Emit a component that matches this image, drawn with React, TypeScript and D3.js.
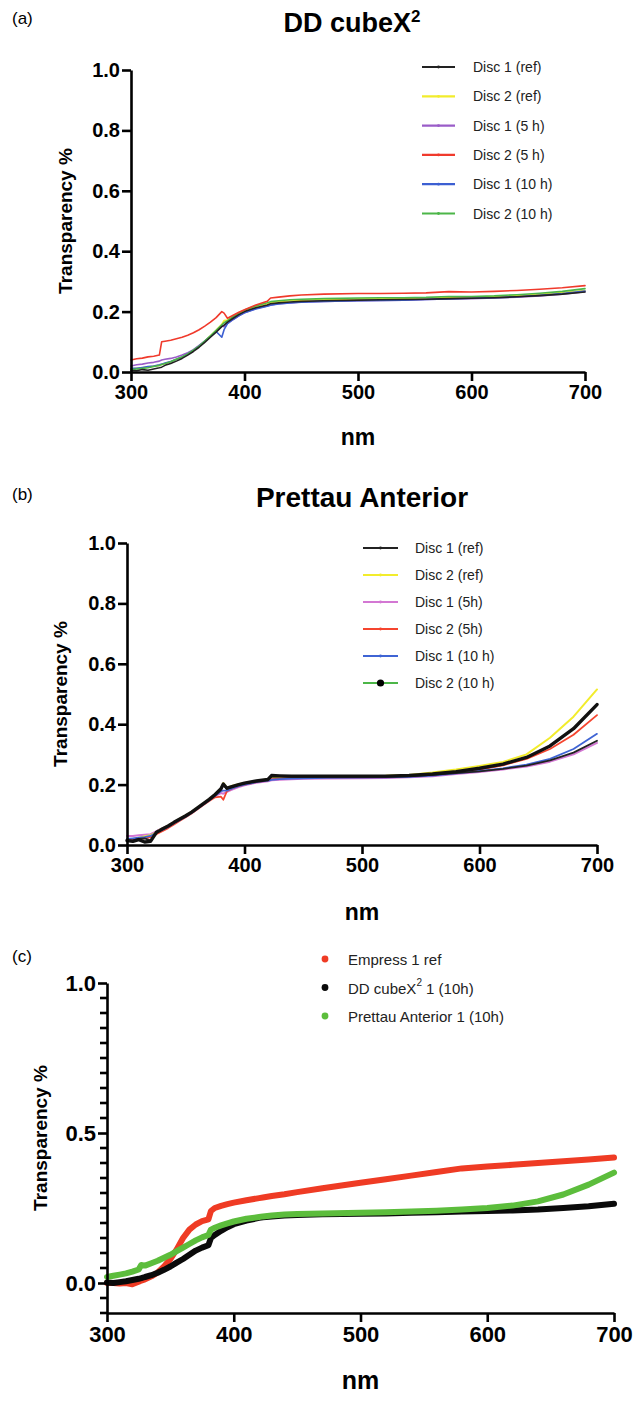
import React, { useRef, useEffect } from 'react';
import * as d3 from 'd3';

// wavelength sampling (nm), shared by all series
const wavelengths = [300, 305, 310, 315, 320, 325, 327, 330, 335, 340, 345, 350, 355, 360, 365, 370, 375, 380, 382, 385, 390, 395, 400, 410, 420, 423, 430, 440, 450, 470, 500, 520, 540, 560, 580, 600, 620, 640, 660, 680, 700];

// (a) DD cubeX2
const aDisc1Ref = [0.005, 0.004, 0.008, 0.006, 0.010, 0.014, 0.016, 0.022, 0.028, 0.036, 0.045, 0.056, 0.068, 0.082, 0.098, 0.115, 0.132, 0.150, 0.155, 0.165, 0.178, 0.190, 0.200, 0.213, 0.222, 0.226, 0.229, 0.232, 0.234, 0.236, 0.238, 0.239, 0.240, 0.241, 0.243, 0.244, 0.246, 0.249, 0.253, 0.258, 0.265];
const aDisc2Ref = [0.010, 0.012, 0.014, 0.016, 0.020, 0.022, 0.025, 0.028, 0.034, 0.042, 0.050, 0.060, 0.072, 0.086, 0.102, 0.120, 0.138, 0.158, 0.170, 0.172, 0.183, 0.194, 0.204, 0.217, 0.226, 0.230, 0.233, 0.236, 0.238, 0.240, 0.242, 0.243, 0.244, 0.245, 0.247, 0.248, 0.250, 0.253, 0.257, 0.263, 0.270];
const aDisc1_5h = [0.020, 0.024, 0.026, 0.030, 0.032, 0.036, 0.040, 0.042, 0.045, 0.050, 0.056, 0.064, 0.074, 0.088, 0.102, 0.118, 0.135, 0.152, 0.150, 0.160, 0.174, 0.186, 0.196, 0.210, 0.219, 0.222, 0.226, 0.229, 0.232, 0.234, 0.236, 0.237, 0.238, 0.240, 0.242, 0.243, 0.245, 0.248, 0.252, 0.258, 0.266];
const aDisc2_5h = [0.040, 0.044, 0.046, 0.050, 0.052, 0.056, 0.100, 0.102, 0.105, 0.110, 0.115, 0.122, 0.130, 0.140, 0.152, 0.165, 0.180, 0.200, 0.195, 0.178, 0.188, 0.198, 0.206, 0.222, 0.234, 0.245, 0.248, 0.252, 0.255, 0.258, 0.260, 0.260, 0.261, 0.262, 0.266, 0.265, 0.267, 0.270, 0.274, 0.279, 0.286];
const aDisc1_10h = [0.012, 0.012, 0.015, 0.018, 0.020, 0.024, 0.026, 0.030, 0.035, 0.042, 0.050, 0.060, 0.072, 0.086, 0.102, 0.118, 0.134, 0.115, 0.140, 0.160, 0.174, 0.186, 0.196, 0.209, 0.218, 0.221, 0.225, 0.229, 0.231, 0.234, 0.236, 0.237, 0.238, 0.240, 0.242, 0.244, 0.246, 0.249, 0.254, 0.260, 0.268];
const aDisc2_10h = [0.008, 0.010, 0.012, 0.014, 0.018, 0.022, 0.025, 0.028, 0.034, 0.042, 0.050, 0.060, 0.072, 0.086, 0.102, 0.120, 0.138, 0.156, 0.163, 0.170, 0.183, 0.195, 0.205, 0.219, 0.229, 0.233, 0.236, 0.239, 0.241, 0.243, 0.245, 0.246, 0.246, 0.247, 0.250, 0.250, 0.252, 0.256, 0.261, 0.267, 0.276];

// (b) Prettau Anterior
const bDisc1Ref = [0.012, 0.015, 0.020, 0.022, 0.015, 0.040, 0.045, 0.052, 0.062, 0.074, 0.085, 0.096, 0.108, 0.122, 0.136, 0.150, 0.166, 0.185, 0.200, 0.186, 0.193, 0.199, 0.204, 0.211, 0.216, 0.228, 0.227, 0.226, 0.226, 0.226, 0.226, 0.226, 0.228, 0.232, 0.238, 0.244, 0.252, 0.263, 0.280, 0.306, 0.345];
const bDisc2Ref = [0.018, 0.020, 0.024, 0.028, 0.032, 0.042, 0.048, 0.054, 0.064, 0.076, 0.087, 0.098, 0.110, 0.124, 0.138, 0.152, 0.168, 0.188, 0.205, 0.190, 0.196, 0.201, 0.205, 0.212, 0.218, 0.224, 0.226, 0.227, 0.227, 0.227, 0.228, 0.229, 0.232, 0.240, 0.250, 0.262, 0.275, 0.300, 0.355, 0.425, 0.515];
const bDisc1_5h = [0.030, 0.030, 0.032, 0.034, 0.036, 0.045, 0.050, 0.055, 0.064, 0.075, 0.086, 0.097, 0.108, 0.121, 0.134, 0.148, 0.162, 0.172, 0.170, 0.176, 0.184, 0.192, 0.198, 0.206, 0.211, 0.214, 0.216, 0.218, 0.219, 0.220, 0.221, 0.222, 0.224, 0.228, 0.235, 0.242, 0.250, 0.260, 0.276, 0.300, 0.338];
const bDisc2_5h = [0.016, 0.018, 0.020, 0.022, 0.026, 0.036, 0.040, 0.046, 0.056, 0.068, 0.080, 0.092, 0.104, 0.118, 0.132, 0.146, 0.158, 0.160, 0.150, 0.178, 0.188, 0.195, 0.200, 0.208, 0.214, 0.218, 0.220, 0.222, 0.222, 0.223, 0.224, 0.225, 0.228, 0.233, 0.240, 0.250, 0.264, 0.285, 0.318, 0.365, 0.430];
const bDisc1_10h = [0.020, 0.022, 0.024, 0.026, 0.030, 0.040, 0.045, 0.050, 0.060, 0.072, 0.083, 0.094, 0.106, 0.120, 0.134, 0.148, 0.163, 0.178, 0.180, 0.180, 0.188, 0.195, 0.200, 0.208, 0.213, 0.216, 0.218, 0.220, 0.221, 0.222, 0.223, 0.224, 0.226, 0.230, 0.237, 0.245, 0.254, 0.266, 0.285, 0.318, 0.368];
const bDisc2_10h = [0.015, 0.012, 0.018, 0.010, 0.012, 0.042, 0.046, 0.053, 0.063, 0.075, 0.086, 0.097, 0.109, 0.123, 0.137, 0.151, 0.167, 0.186, 0.202, 0.188, 0.194, 0.200, 0.205, 0.212, 0.217, 0.230, 0.229, 0.228, 0.228, 0.228, 0.228, 0.228, 0.230, 0.235, 0.243, 0.254, 0.268, 0.290, 0.328, 0.385, 0.465];

// (c) comparison
const cEmpress = [0.000, 0.000, -0.002, 0.000, -0.004, 0.004, 0.008, 0.012, 0.022, 0.035, 0.055, 0.080, 0.112, 0.150, 0.178, 0.195, 0.206, 0.212, 0.240, 0.250, 0.257, 0.263, 0.268, 0.276, 0.283, 0.285, 0.290, 0.296, 0.303, 0.316, 0.334, 0.346, 0.358, 0.370, 0.382, 0.388, 0.394, 0.400, 0.406, 0.412, 0.418];
const cCube = [0.002, 0.000, 0.003, 0.006, 0.010, 0.014, 0.016, 0.020, 0.026, 0.034, 0.044, 0.055, 0.068, 0.080, 0.094, 0.108, 0.118, 0.126, 0.150, 0.160, 0.174, 0.186, 0.196, 0.208, 0.217, 0.219, 0.222, 0.225, 0.227, 0.229, 0.231, 0.232, 0.234, 0.236, 0.238, 0.240, 0.242, 0.245, 0.250, 0.256, 0.264];
const cPrettau = [0.020, 0.024, 0.028, 0.032, 0.038, 0.045, 0.060, 0.058, 0.066, 0.074, 0.084, 0.094, 0.106, 0.118, 0.130, 0.142, 0.152, 0.160, 0.178, 0.184, 0.192, 0.199, 0.205, 0.214, 0.220, 0.222, 0.225, 0.228, 0.230, 0.232, 0.234, 0.236, 0.238, 0.241, 0.245, 0.250, 0.258, 0.272, 0.295, 0.328, 0.368];

const xTicks = [300, 400, 500, 600, 700];
const yTicksAB = [0, 0.2, 0.4, 0.6, 0.8, 1.0];
const yTicksC = [0, 0.5, 1.0];
const yMinorC = [-0.1, -0.05, 0.05, 0.1, 0.15, 0.2, 0.25, 0.3, 0.35, 0.4, 0.45, 0.55, 0.6, 0.65, 0.7, 0.75, 0.8, 0.85, 0.9, 0.95];

const FONT = '"Liberation Sans", Arial, Helvetica, sans-serif';

const panels = [
  {
    tag: '(a)', tagY: 24,
    title: 'DD cubeX', sup: '2', titleX: 352, titleY: 32, titleFont: 27,
    left: 131, right: 585, top: 70, bottom: 372, yDomain: [0, 1], yTicks: yTicksAB, minor: null,
    tickFont: 20, nmFont: 23, nmY: 445, yLabelX: 65,
    legend: { x1: 422, x2: 455, tx: 473, y0: 67, dy: 29.3, font: 14, kind: 'line' },
    series: [
      { name: 'Disc 1 (ref)', values: aDisc1Ref, color: '#222222', width: 1.6, order: 4 },
      { name: 'Disc 2 (ref)', values: aDisc2Ref, color: '#f2ec2c', width: 1.6, order: 0 },
      { name: 'Disc 1 (5 h)', values: aDisc1_5h, color: '#9a5cc8', width: 1.6, order: 1 },
      { name: 'Disc 2 (5 h)', values: aDisc2_5h, color: '#f03a2c', width: 1.6, order: 5 },
      { name: 'Disc 1 (10 h)', values: aDisc1_10h, color: '#3c5fd2', width: 1.6, order: 2 },
      { name: 'Disc 2 (10 h)', values: aDisc2_10h, color: '#4cb648', width: 1.6, order: 3 },
    ],
  },
  {
    tag: '(b)', tagY: 500,
    title: 'Prettau Anterior', sup: '', titleX: 362, titleY: 507, titleFont: 28,
    left: 127, right: 597, top: 543, bottom: 845, yDomain: [0, 1], yTicks: yTicksAB, minor: null,
    tickFont: 20, nmFont: 23, nmY: 920, yLabelX: 60,
    legend: { x1: 363, x2: 398, tx: 415, y0: 548, dy: 27, font: 14, kind: 'line' },
    series: [
      { name: 'Disc 1 (ref)', values: bDisc1Ref, color: '#222222', width: 1.8, order: 4 },
      { name: 'Disc 2 (ref)', values: bDisc2Ref, color: '#f2ec2c', width: 2, order: 1 },
      { name: 'Disc 1 (5h)', values: bDisc1_5h, color: '#d377d3', width: 2, order: 0 },
      { name: 'Disc 2 (5h)', values: bDisc2_5h, color: '#f5452f', width: 1.8, order: 2 },
      { name: 'Disc 1 (10 h)', values: bDisc1_10h, color: '#3f64d4', width: 1.8, order: 3 },
      { name: 'Disc 2 (10 h)', values: bDisc2_10h, color: '#111111', width: 3.4, order: 5, legendColor: '#4cb648', dot: true },
    ],
  },
  {
    tag: '(c)', tagY: 962,
    title: '', sup: '', titleX: 0, titleY: 0, titleFont: 27,
    left: 107, right: 614, top: 983, bottom: 1313, yDomain: [-0.1, 1], yTicks: yTicksC, minor: yMinorC,
    tickFont: 22, nmFont: 25, nmY: 1389, yLabelX: 40,
    legend: { x1: 0, x2: 0, tx: 348, y0: 959, dy: 28.5, font: 15, kind: 'dot', dx: 325 },
    series: [
      { name: 'Empress 1 ref', values: cEmpress, color: '#ef3b24', width: 6, order: 0 },
      { name: 'DD cubeX|2| 1 (10h)', values: cCube, color: '#0a0a0a', width: 6, order: 1 },
      { name: 'Prettau Anterior 1 (10h)', values: cPrettau, color: '#5cbd3c', width: 6, order: 2 },
    ],
  },
];

function drawPanel(svg: any, p: any) {
  const x = d3.scaleLinear().domain([300, 700]).range([p.left, p.right]);
  const y = d3.scaleLinear().domain(p.yDomain).range([p.bottom, p.top]);
  const g = svg.append('g').attr('font-family', FONT);

  // panel tag and title
  g.append('text').attr('x', 12).attr('y', p.tagY).attr('font-size', 17).text(p.tag);
  if (p.title) {
    const t = g.append('text').attr('x', p.titleX).attr('y', p.titleY)
      .attr('text-anchor', 'middle').attr('font-size', p.titleFont).attr('font-weight', 'bold');
    t.append('tspan').text(p.title);
    if (p.sup) t.append('tspan').attr('dy', -10).attr('font-size', 17).text(p.sup);
  }

  // curves
  const line = d3.line<number>().x((_, i) => x(wavelengths[i])).y(d => y(d));
  const ordered = [...p.series].sort((a, b) => a.order - b.order);
  ordered.forEach((s: any) => {
    g.append('path')
      .attr('d', line(s.values))
      .attr('fill', 'none')
      .attr('stroke', s.color)
      .attr('stroke-width', s.width)
      .attr('stroke-linejoin', 'round')
      .attr('stroke-linecap', 'round');
  });

  // y axis
  const ya = g.append('g').attr('transform', `translate(${p.left},0)`)
    .call(d3.axisLeft(y).tickValues(p.yTicks).tickSize(9).tickSizeOuter(0).tickPadding(2).tickFormat(d3.format('.1f')));
  ya.select('.domain').attr('stroke', '#000').attr('stroke-width', 2.6);
  ya.selectAll('line').attr('stroke', '#000').attr('stroke-width', 2.6);
  ya.selectAll('text').attr('font-family', FONT).attr('font-size', p.tickFont).attr('font-weight', 'bold').attr('fill', '#000');

  // minor ticks (panel c only)
  if (p.minor) {
    const mg = g.append('g');
    p.minor.forEach((v: number) => {
      mg.append('line')
        .attr('x1', p.left - 7).attr('x2', p.left + 1)
        .attr('y1', y(v)).attr('y2', y(v))
        .attr('stroke', '#000').attr('stroke-width', 2.6);
    });
  }

  // x axis
  const xa = g.append('g').attr('transform', `translate(0,${p.bottom})`)
    .call(d3.axisBottom(x).tickValues(xTicks).tickSize(9).tickSizeOuter(0).tickPadding(4).tickFormat(d3.format('d')));
  xa.select('.domain').attr('stroke', '#000').attr('stroke-width', 2.6);
  xa.selectAll('line').attr('stroke', '#000').attr('stroke-width', 2.6);
  xa.selectAll('text').attr('font-family', FONT).attr('font-size', p.tickFont).attr('font-weight', 'bold').attr('fill', '#000');

  // axis titles
  g.append('text').attr('x', (p.left + p.right) / 2).attr('y', p.nmY)
    .attr('text-anchor', 'middle').attr('font-size', p.nmFont).attr('font-weight', 'bold').text('nm');
  g.append('text')
    .attr('transform', `translate(${p.yLabelX},${(p.top + y(0)) / 2 + (p.minor ? 5 : 0)}) rotate(-90)`)
    .attr('text-anchor', 'middle').attr('dominant-baseline', 'central')
    .attr('font-size', 19).attr('font-weight', 'bold').text('Transparency %');

  // legend
  const L = p.legend;
  p.series.forEach((s: any, i: number) => {
    const ly = L.y0 + i * L.dy;
    if (L.kind === 'line') {
      g.append('line').attr('x1', L.x1).attr('x2', L.x2).attr('y1', ly).attr('y2', ly)
        .attr('stroke', s.legendColor || s.color).attr('stroke-width', 2.2);
      g.append('circle').attr('cx', (L.x1 + L.x2) / 2).attr('cy', ly).attr('r', s.dot ? 3.6 : 1.4)
        .attr('fill', s.dot ? '#000' : s.color);
    } else {
      g.append('circle').attr('cx', L.dx).attr('cy', ly).attr('r', 3.4).attr('fill', s.color);
    }
    const t = g.append('text').attr('x', L.tx).attr('y', ly).attr('dominant-baseline', 'central')
      .attr('font-size', L.font).attr('fill', '#222');
    const parts = s.name.split('|');
    t.append('tspan').text(parts[0]);
    if (parts.length > 1) {
      t.append('tspan').attr('dy', -6).attr('font-size', 10).text(parts[1]);
      t.append('tspan').attr('dy', 6).text(parts[2]);
    }
  });
}

const App = () => {
  const svgRef = useRef<SVGSVGElement>(null);

  useEffect(() => {
    const svg = d3.select(svgRef.current);
    svg.selectAll('*').remove();
    svg.append('rect').attr('width', 644).attr('height', 1407).attr('fill', '#fff');
    panels.forEach(p => drawPanel(svg, p));
  }, []);

  return (
    <svg ref={svgRef} width={644} height={1407}
      style={{ position: 'absolute', left: 0, top: 0, background: '#fff' }} />
  );
};

export default App;
